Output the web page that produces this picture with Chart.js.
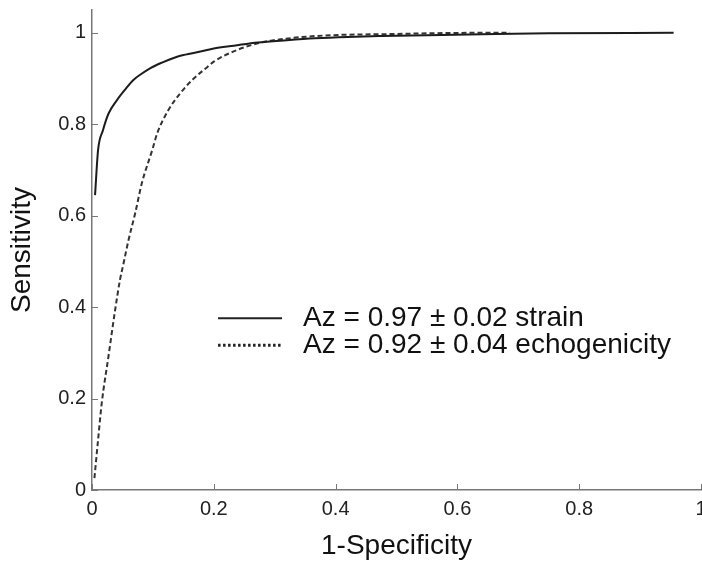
<!DOCTYPE html>
<html>
<head>
<meta charset="utf-8">
<script src="https://cdn.jsdelivr.net/npm/chart.js@4.4.1/dist/chart.umd.min.js"></script>
<style>
  html, body { margin: 0; padding: 0; background: #fff; }
  #wrap { width: 702px; height: 565px; position: relative; }
</style>
</head>
<body>
<div id="wrap"><canvas id="roc"></canvas></div>
<script>
// ROC curves
const strainX = [0.005, 0.010, 0.018, 0.027, 0.041, 0.055, 0.068, 0.082, 0.096, 0.115, 0.134, 0.145, 0.178, 0.2, 0.233, 0.272, 0.32, 0.366, 0.42, 0.476, 0.55, 0.641, 0.75, 0.955];
const strainY = [0.645, 0.744, 0.787, 0.823, 0.853, 0.877, 0.897, 0.911, 0.923, 0.935, 0.945, 0.95, 0.959, 0.966, 0.972, 0.979, 0.984, 0.988, 0.991, 0.993, 0.995, 0.997, 0.999, 1.0];

const echoX = [0.004, 0.010, 0.016, 0.027, 0.038, 0.046, 0.052, 0.060, 0.071, 0.082, 0.099, 0.107, 0.125, 0.145, 0.167, 0.19, 0.2, 0.239, 0.272, 0.294, 0.33, 0.366, 0.42, 0.476, 0.55, 0.62, 0.686];
const echoY = [0.026, 0.11, 0.19, 0.292, 0.394, 0.46, 0.497, 0.547, 0.606, 0.672, 0.744, 0.78, 0.83, 0.868, 0.90, 0.926, 0.937, 0.963, 0.977, 0.983, 0.989, 0.993, 0.996, 0.997, 0.999, 1.0, 1.0];

const xTicks = [0, 0.2, 0.4, 0.6, 0.8, 1];
const yTicks = [0, 0.2, 0.4, 0.6, 0.8, 1];

const seriesLabels = ['Az = 0.97 \u00b1 0.02 strain', 'Az = 0.92 \u00b1 0.04 echogenicity'];

const FONT = '"Liberation Sans", Arial, Helvetica, sans-serif';
const AXIS_COLOR = '#777';

const toPoints = (xs, ys) => xs.map((x, i) => ({ x: x, y: ys[i] }));

// inward tick marks, like the original plot
const innerTicks = {
  id: 'innerTicks',
  afterDraw(chart) {
    const { ctx, chartArea } = chart;
    const xs = chart.scales.x, ys = chart.scales.y;
    ctx.save();
    ctx.strokeStyle = AXIS_COLOR;
    ctx.lineWidth = 1;
    xTicks.forEach(v => {
      const px = Math.round(xs.getPixelForValue(v)) + 0.5;
      ctx.beginPath();
      ctx.moveTo(px, chartArea.bottom);
      ctx.lineTo(px, chartArea.bottom - 6);
      ctx.stroke();
    });
    yTicks.forEach(v => {
      const py = Math.round(ys.getPixelForValue(v)) + 0.5;
      ctx.beginPath();
      ctx.moveTo(chartArea.left, py);
      ctx.lineTo(chartArea.left + 6, py);
      ctx.stroke();
    });
    ctx.restore();
  }
};

// legend inside the plot, no frame
const insideLegend = {
  id: 'insideLegend',
  afterDraw(chart) {
    const { ctx, chartArea } = chart;
    const x0 = chartArea.left + chartArea.width * 0.207;
    const y0 = chartArea.top + chartArea.height * 0.642;
    const rowGap = 27;
    ctx.save();
    chart.data.datasets.forEach((ds, i) => {
      const y = y0 + i * rowGap;
      ctx.strokeStyle = '#222';
      ctx.lineWidth = i === 0 ? 2 : 3;
      ctx.setLineDash(i === 0 ? [] : [2.5, 2.5]);
      ctx.beginPath();
      ctx.moveTo(x0, y);
      ctx.lineTo(x0 + 64, y);
      ctx.stroke();
      ctx.setLineDash([]);
      ctx.fillStyle = '#111';
      ctx.font = '28px ' + FONT;
      ctx.textBaseline = 'middle';
      ctx.textAlign = 'left';
      ctx.fillText(ds.label, x0 + 85, y);
    });
    ctx.restore();
  }
};

new Chart(document.getElementById('roc'), {
  type: 'scatter',
  data: {
    datasets: [
      { label: seriesLabels[0], data: toPoints(strainX, strainY), showLine: true, borderColor: '#1c1c1c', borderWidth: 2, pointRadius: 0, cubicInterpolationMode: 'monotone' },
      { label: seriesLabels[1], data: toPoints(echoX, echoY), showLine: true, borderColor: '#333', borderWidth: 2, borderDash: [5, 3], pointRadius: 0, cubicInterpolationMode: 'monotone' }
    ]
  },
  options: {
    responsive: true,
    maintainAspectRatio: false,
    animation: false,
    layout: { padding: { left: 0, right: 1, top: 10, bottom: 0 } },
    plugins: { legend: { display: false }, tooltip: { enabled: false } },
    scales: {
      x: {
        type: 'linear', min: 0, max: 1,
        afterBuildTicks: s => { s.ticks = xTicks.map(v => ({ value: v })); },
        afterFit: s => { s.height = 75; s.paddingRight = 0; s.paddingLeft = 0; },
        grid: { display: true, drawOnChartArea: false, drawTicks: false, tickLength: 0 },
        border: { display: true, color: AXIS_COLOR, width: 1.5 },
        ticks: { color: '#222', padding: 7, maxRotation: 0, font: { family: FONT, size: 20 }, callback: v => String(v) },
        title: { display: true, text: '1-Specificity', color: '#111', padding: { top: 0, bottom: 2 }, font: { family: FONT, size: 28 } }
      },
      y: {
        type: 'linear', min: 0, max: 1.05,
        afterBuildTicks: s => { s.ticks = yTicks.map(v => ({ value: v })); },
        afterFit: s => { s.width = 92; s.paddingTop = 0; s.paddingBottom = 0; },
        grid: { display: true, drawOnChartArea: false, drawTicks: false, tickLength: 0 },
        border: { display: true, color: AXIS_COLOR, width: 1.5 },
        ticks: { color: '#222', padding: 6, font: { family: FONT, size: 20 }, callback: v => String(v) },
        title: { display: true, text: 'Sensitivity', color: '#111', padding: { top: 5, bottom: 0 }, font: { family: FONT, size: 28 } }
      }
    }
  },
  plugins: [innerTicks, insideLegend]
});
</script>
</body>
</html>
